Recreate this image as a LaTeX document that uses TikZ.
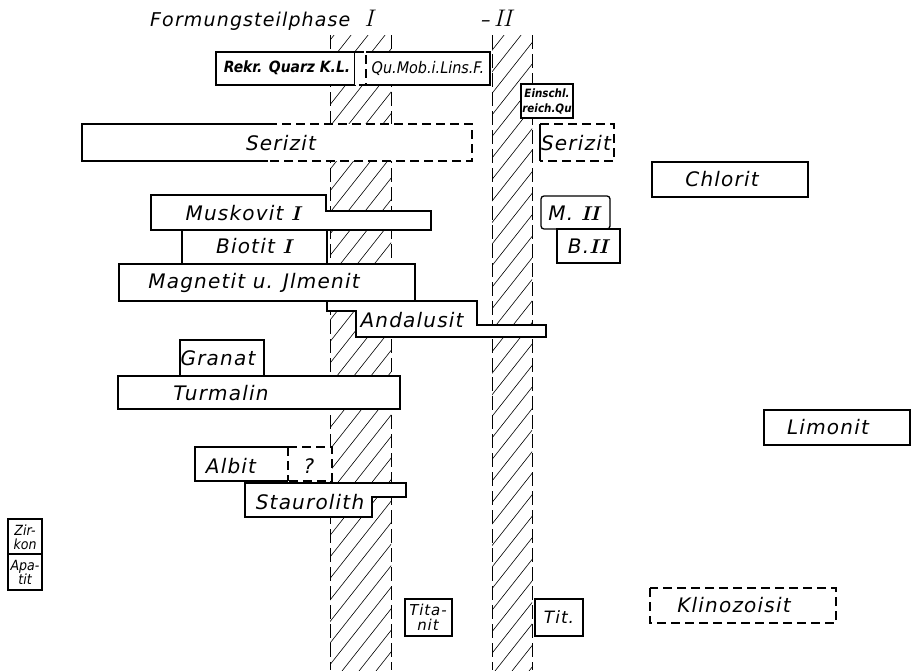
\documentclass[tikz,border=0pt]{standalone}
\usepackage{fontspec}
\newfontfamily\hand[LetterSpace=6]{DejaVu Sans}
\newfontfamily\handk{DejaVu Sans Condensed}
\newcommand{\rn}[1]{{\rmfamily\itshape\bfseries #1}}
\usetikzlibrary{positioning}
\begin{document}
\begin{tikzpicture}[x=1pt, y=-1pt, line join=miter,
		feld/.style={draw, line width=1.3pt, fill=white},
		gestr/.style={draw, line width=1.1pt, dash pattern=on 9pt off 5pt},
		saeule/.style={line width=0.9pt, dash pattern=on 14pt off 5pt},
		schraffur/.style={line width=0.6pt},
		gross/.style={font=\hand\itshape\fontsize{20}{22}\selectfont, inner sep=0pt},
		mittel/.style={font=\handk\itshape\fontsize{16}{18}\selectfont, inner sep=0pt},
		klein/.style={font=\handk\itshape\fontsize{14}{14}\selectfont, align=center, inner sep=0pt}]
		\useasboundingbox (0,0) rectangle (916,670);
		% ==================== TITEL ====================
		\node[gross, font=\hand\itshape\fontsize{19}{21}\selectfont, anchor=base west] (titelI) at (150,26) {Formungsteilphase\hspace{14pt}{\fontsize{24}{24}\selectfont\rmfamily\itshape I}};
		\node[gross, font=\hand\itshape\fontsize{19}{21}\selectfont, anchor=base west] (titelII) at (481,26) {–\,{\fontsize{24}{24}\selectfont\rmfamily\itshape II}};
		% ==================== SCHRAFFIERTE SÄULEN ====================
		\foreach \l/\r in {330/391, 492/532} {
			\begin{scope}
				\clip (\l,35) rectangle (\r,670);
				\foreach \x in {-200,-183,...,560}
				\draw[schraffur] (\x,690) -- ++(600,-760);
			\end{scope}
			\draw[saeule] (\l,35) -- (\l,670);
			\draw[saeule] (\r,35) -- (\r,670);
		}
		% ==================== QUARZ ====================
		\draw[feld] (216,52) rectangle (355,85);
		\fill[white] (355,52) rectangle (490,85);
		\draw[feld, fill=none] (366,52) -- (490,52) -- (490,85) -- (366,85);
		\draw[gestr] (355,52) -- (366,52) -- (366,85) -- (355,85);
		\node[mittel, font=\handk\bfseries\itshape\fontsize{15.5}{18}\selectfont] (quarz) at (287,68) {Rekr. Quarz K.L.};
		\node[mittel] (qumob) at (428,68) {Qu.Mob.i.Lins.F.};
		\draw[feld] (521,84) rectangle (573,118);
		\node[klein, font=\handk\bfseries\itshape\fontsize{11.5}{15}\selectfont] (einschl) at (547,101) {Einschl.\\reich.Qu};
		% ==================== SERIZIT, CHLORIT ====================
		\fill[white] (82,124) rectangle (472,161);
		\draw[feld, fill=none] (268,124) -- (82,124) -- (82,161) -- (268,161);
		\draw[gestr] (268,124) -- (472,124) -- (472,161) -- (268,161);
		\node[gross] (serizitI) at (281,143) {Serizit};
		\fill[white] (540,124) rectangle (614,161);
		\draw[feld] (540,124) -- (540,161);
		\draw[gestr] (540,124) -- (614,124) -- (614,161) -- (540,161);
		\node[gross] (serizitII) at (576,143) {Serizit};
		\draw[feld] (652,162) rectangle (808,197);
		\node[gross] (chlorit) at (722,179) {Chlorit};
		% ==================== GLIMMER, ERZ, ANDALUSIT ====================
		\draw[feld] (151,195) -- (326,195) -- (326,211) -- (431,211) -- (431,230) -- (151,230) -- cycle;
		\node[gross] (muskovit) at (243,213) {Muskovit \rn{I}};
		\draw[feld] (182,230) rectangle (327,264);
		\node[gross] (biotit) at (254,246) {Biotit \rn{I}};
		\draw[feld, rounded corners=3pt] (541,196) rectangle (610,229);
		\node[gross] (muskovitII) at (574,213) {M. \rn{II}};
		\draw[feld] (557,229) rectangle (620,263);
		\node[gross] (biotitII) at (588,246) {B.\rn{II}};
		\draw[feld] (119,264) rectangle (415,301);
		\node[gross] (magnetit) at (254,283) {Magnetit u. Jlmenit};
		\draw[feld] (327,301) -- (477,301) -- (477,325) -- (546,325) -- (546,337) -- (356,337) -- (356,311) -- (327,311) -- cycle;
		\node[gross] (andalusit) at (412,320) {Andalusit};
		% ==================== GRANAT, TURMALIN, LIMONIT ====================
		\draw[feld] (180,340) rectangle (264,376);
		\node[gross] (granat) at (218,358) {Granat};
		\draw[feld] (118,376) rectangle (400,409);
		\node[gross] (turmalin) at (221,393) {Turmalin};
		\draw[feld] (764,410) rectangle (910,445);
		\node[gross] (limonit) at (828,427) {Limonit};
		% ==================== ALBIT, STAUROLITH ====================
		\fill[white] (195,447) rectangle (332,481);
		\draw[feld, fill=none] (288,447) -- (195,447) -- (195,481) -- (288,481);
		\draw[gestr] (288,447) -- (332,447) -- (332,481) -- (288,481) (288,447) -- (288,481);
		\node[gross] (albit) at (231,466) {Albit};
		\node[gross] (frage) at (309,466) {?};
		\draw[feld] (245,483) -- (406,483) -- (406,497) -- (372,497) -- (372,517) -- (245,517) -- cycle;
		\node[gross] (staurolith) at (310,502) {Staurolith};
		% ==================== ZIRKON, APATIT ====================
		\draw[feld] (8,519) rectangle (42,590);
		\draw[feld] (8,554) -- (42,554);
		\node[klein] (zirkon) at (25,537) {Zir-\\kon};
		\node[klein] (apatit) at (25,572) {Apa-\\tit};
		% ==================== KLINOZOISIT, TITANIT ====================
		\draw[gestr, fill=white] (650,588) rectangle (836,623);
		\node[gross] (klinozoisit) at (734,605) {Klinozoisit};
		\draw[feld] (405,599) rectangle (452,636);
		\node[klein, font=\hand\itshape\fontsize{15}{15}\selectfont] (titanit) at (428,617) {Tita-\\nit};
		\draw[feld] (535,599) rectangle (583,636);
		\node[gross, font=\hand\itshape\fontsize{17}{18}\selectfont] (tit) at (559,617) {Tit.};
\end{tikzpicture}
\end{document}
